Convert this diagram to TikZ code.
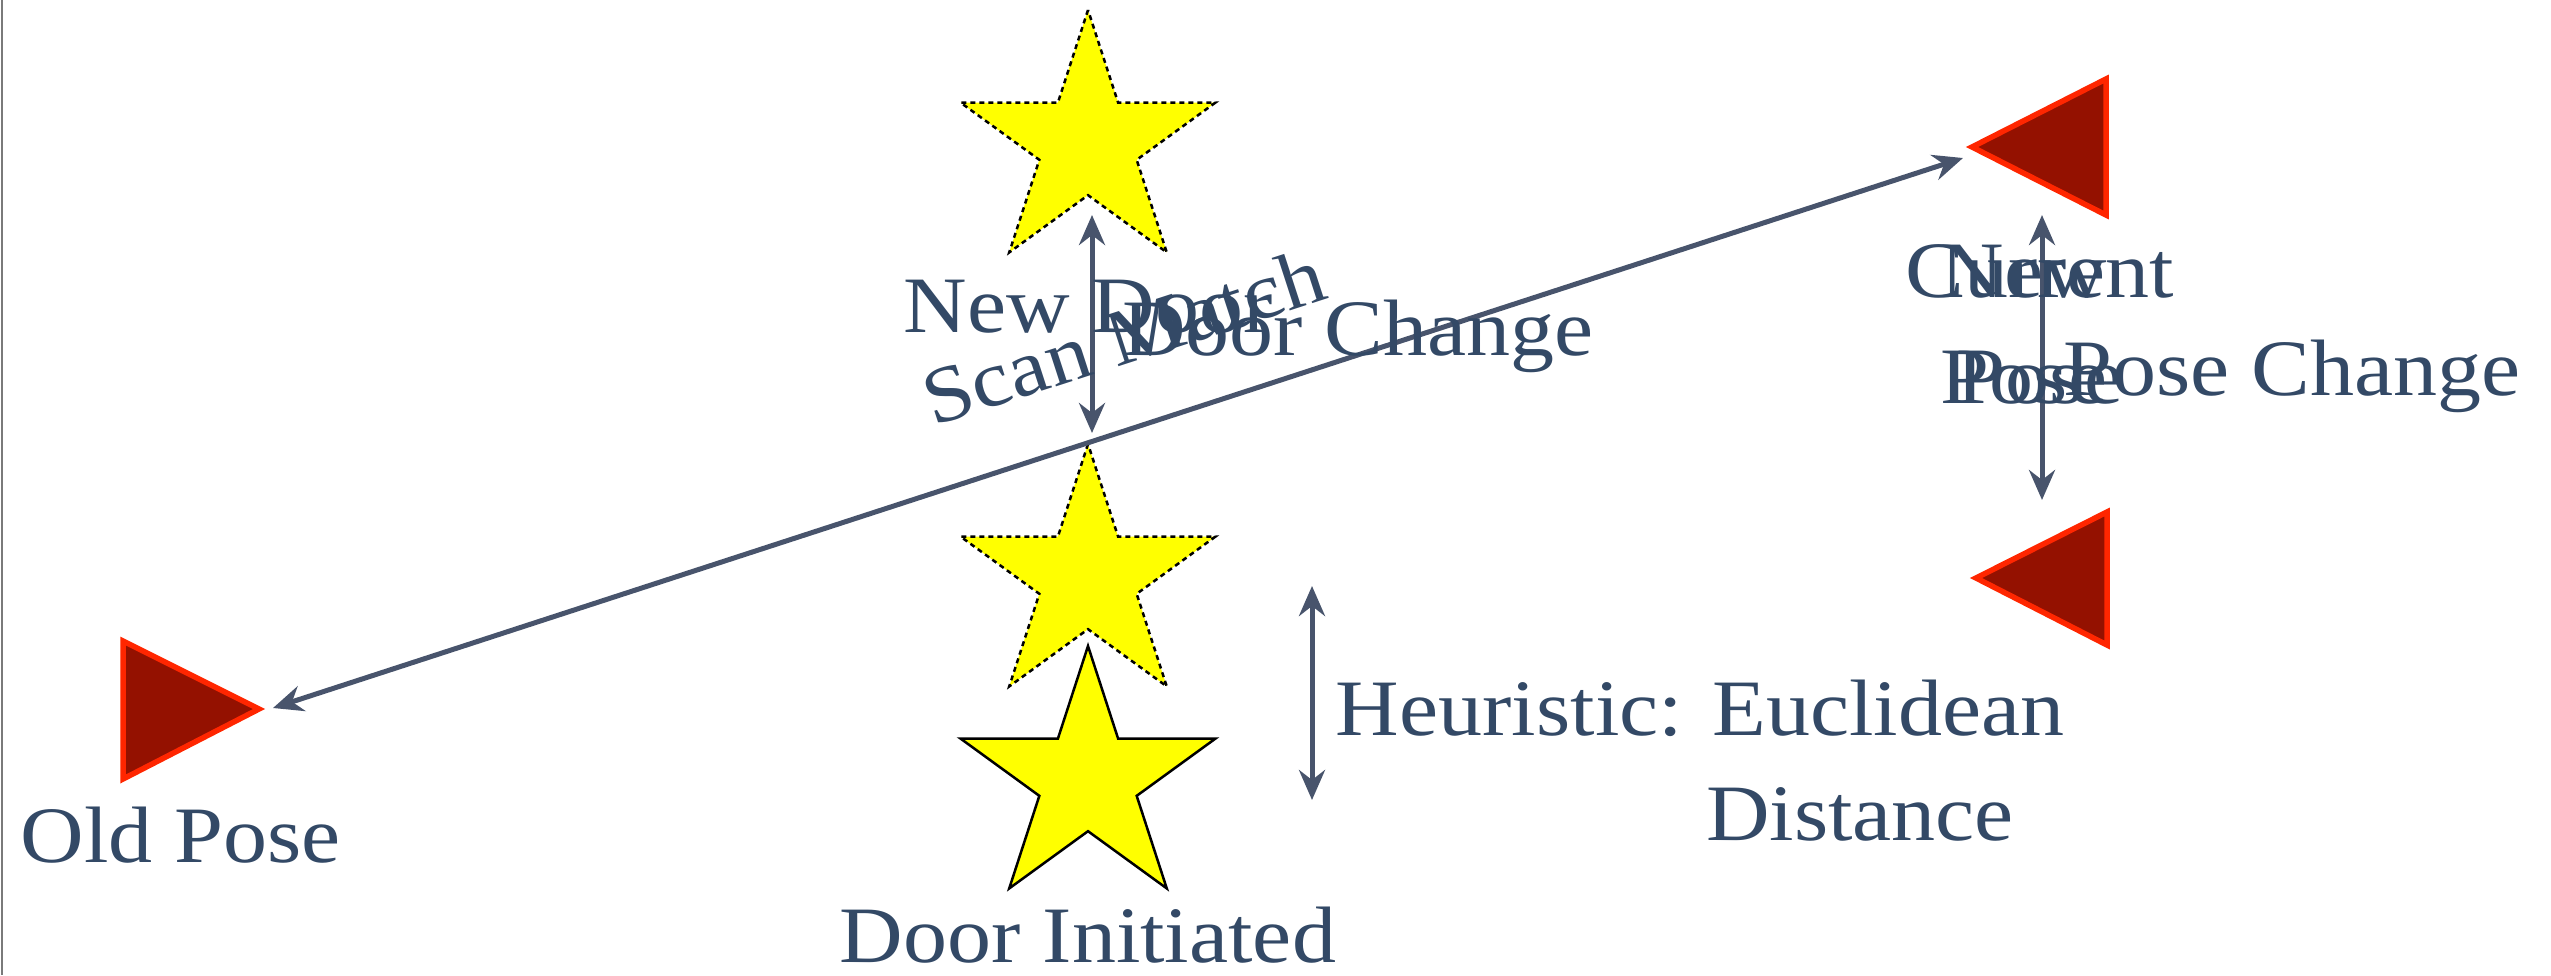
\documentclass[tikz,border=0pt]{standalone}
\usepackage{fontspec}
\setmainfont{Liberation Serif}[FakeStretch=1.1]
\usetikzlibrary{shapes.geometric,arrows.meta}
\definecolor{txt}{HTML}{334966}
\definecolor{arr}{HTML}{48546C}
\definecolor{posefill}{HTML}{941100}
\definecolor{poseline}{HTML}{FF2600}
\definecolor{doorfill}{HTML}{FFFF00}
\definecolor{edge}{HTML}{7A7A7A}
\begin{document}
\begin{tikzpicture}[x=1pt,y=-1pt,
  lbl/.style={text=txt, font=\fontsize{80}{106}\selectfont, inner sep=0pt, anchor=base},
  conn/.style={draw=arr, line width=5pt,
    {Stealth[length=30pt,width=26pt,inset=10pt]}-{Stealth[length=30pt,width=26pt,inset=10pt]}},
  doorstar/.style={star, star points=5, star point ratio=2.618, minimum size=268pt,
    inner sep=0pt, outer sep=0pt, fill=doorfill, draw=black, line width=2.5pt},
  tentative/.style={doorstar, dash pattern=on 5pt off 4pt},
  posetri/.style={fill=posefill, draw=poseline, line width=5.5pt, line join=miter}]

\useasboundingbox (0,0) rectangle (2551,975);
\draw[edge, line width=2pt] (1.5,0) -- (1.5,975);

% stars
\node[tentative] (newdoorstar) at (1088,144) {};
\node[tentative] (midstar) at (1088,578) {};
\node[doorstar] (initstar) at (1088,780) {};

% pose triangles
\draw[posetri] (123,641) -- (259,709) -- (123,779) -- cycle;
\draw[posetri] (1972,147) -- (2106,79) -- (2106,215) -- cycle;
\draw[posetri] (1976,578) -- (2107,512) -- (2107,645) -- cycle;

% connector end points
\coordinate (oldtip) at (273,708);
\coordinate (curtip) at (1963,158);
\coordinate (dooru) at (1092,215);
\coordinate (doord) at (1092,433);
\coordinate (poseu) at (2042,215);
\coordinate (posed) at (2042,500);
\coordinate (heuu) at (1312,586);
\coordinate (heud) at (1312,800);

% connectors
\draw[conn] (oldtip) -- (curtip);
\draw[conn] (dooru) -- (doord);
\draw[conn] (poseu) -- (posed);
\draw[conn] (heuu) -- (heud);

% labels
\node[lbl] (lnewdoor) at (1088,332) {New Door};
\node[lbl] (ldoorchange) at (1358,355) {Door Change};
\node[lbl, anchor=base west, rotate=18] (lscan) at (933,427) {Scan Match};
\node[lbl] (lcur1) at (2040,297) {Current};
\node[lbl] (lcur2) at (2040,403) {Pose};
\node[lbl] (lnew1) at (2024,297) {New};
\node[lbl] (lnew2) at (2024,403) {Pose};
\node[lbl] (lposechange) at (2292,395) {Pose Change};
\node[lbl] (lheu1) at (1700,735) {Heuristic: Euclidean};
\node[lbl] (lheu2) at (1860,840) {Distance};
\node[lbl] (lold) at (181,862) {Old Pose};
\node[lbl] (linit) at (1088,962) {Door Initiated};
\end{tikzpicture}
\end{document}
